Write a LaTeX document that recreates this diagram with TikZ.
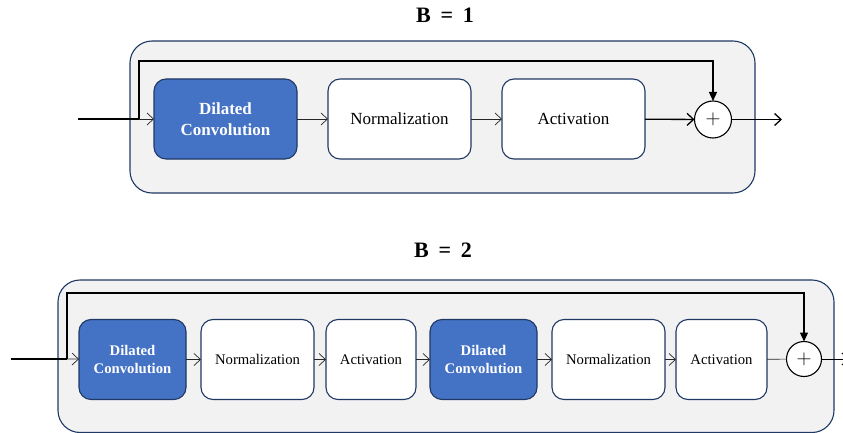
\documentclass[tikz,border=0pt]{standalone}
\usepackage{fontspec}
\setmainfont{Liberation Serif}
\usepackage{tikz}
\usetikzlibrary{arrows.meta,positioning}
\definecolor{blockblue}{HTML}{4472C4}
\definecolor{edgenavy}{HTML}{1F3864}
\definecolor{panelgray}{HTML}{F2F2F2}

\begin{document}
\begin{tikzpicture}[x=1pt,y=-1pt,>={Straight Barb[length=6.5pt,width=12pt]},
                    panel/.style={draw=edgenavy,fill=panelgray,line width=1.1pt,rounded corners=22pt},
                    block/.style={rectangle,draw=edgenavy,fill=white,line width=1.1pt,outer sep=0pt,
                                  rounded corners=12pt,minimum height=80pt,inner sep=0pt,align=center},
                    conv block/.style={block,fill=blockblue,text=white,font=\bfseries},
                    sum node/.style={circle,draw,fill=white,line width=1.1pt,inner sep=0pt,outer sep=0pt,
                                     font=\fontsize{20}{20}\selectfont},
                    link/.style={->,line width=0.7pt,draw=black!85},
                    main line/.style={line width=1.3pt},
                    title/.style={font=\fontsize{22}{24}\selectfont\bfseries}]
  \useasboundingbox (0,0) rectangle (843,433);

  % B = 1
  \node[title] (title1) at (445,15) {B\;\,=\;\,1};
  \draw[panel] (130,41) rectangle (755,193);

  \begin{scope}[every node/.append style={font=\fontsize{17}{21}\selectfont}]
  \node[conv block,minimum width=143pt,font=\fontsize{17}{21}\selectfont\bfseries] (conv1) at (225.5,119) {Dilated\\Convolution};
  \node[block,minimum width=143pt] (norm1) [right=31pt of conv1] {Normalization};
  \node[block,minimum width=143pt] (act1) [right=31pt of norm1] {Activation};
  \end{scope}
  \node[sum node,minimum size=37pt] (sum1) at (713,119.5) {$+$};

  \coordinate (in1) at (78,119);
  \coordinate (split1) at (139,119);
  \coordinate (out1) at (782,119.5);

  \draw[main line] (in1) -- (split1);
  \draw[link] (split1) -- (conv1);
  \draw[link] (conv1) -- (norm1);
  \draw[link] (norm1) -- (act1);
  \draw[main line,->] (act1) -- (sum1);
  \draw[main line,-{Triangle[length=9pt,width=8pt]}] (split1) -- ++(0,-58) -| (sum1.north);
  \draw[main line,->] (sum1) -- (out1);

  % B = 2
  \node[title] (title2) at (443,250) {B\;\,=\;\,2};
  \draw[panel] (58,280) rectangle (834,432.5);

  \begin{scope}[every node/.append style={font=\fontsize{14.7}{18}\selectfont}]
  \node[conv block,minimum width=107pt,font=\fontsize{14.7}{18}\selectfont\bfseries] (conv2a) at (132.5,359.5) {Dilated\\Convolution};
  \node[block,minimum width=113pt] (norm2a) [right=15pt of conv2a] {Normalization};
  \node[block,minimum width=90pt] (act2a) [right=12pt of norm2a] {Activation};
  \node[conv block,minimum width=107pt,font=\fontsize{14.7}{18}\selectfont\bfseries] (conv2b) [right=14pt of act2a] {Dilated\\Convolution};
  \node[block,minimum width=113pt] (norm2b) [right=15pt of conv2b] {Normalization};
  \node[block,minimum width=91pt] (act2b) [right=11pt of norm2b] {Activation};
  \end{scope}
  \node[sum node,minimum size=35pt] (sum2) at (804,359) {$+$};

  \coordinate (in2) at (11,359);
  \coordinate (split2) at (67,359);
  \coordinate (out2) at (849,359);

  \draw[main line] (in2) -- (split2);
  \draw[link] (split2) -- (conv2a);
  \draw[link] (conv2a) -- (norm2a);
  \draw[link] (norm2a) -- (act2a);
  \draw[link] (act2a) -- (conv2b);
  \draw[link] (conv2b) -- (norm2b);
  \draw[link] (norm2b) -- (act2b);
  \draw[line width=0.7pt,draw=black!85] (act2b) -- (sum2);
  \draw[main line,-{Triangle[length=9pt,width=8pt]}] (split2) -- ++(0,-66) -| (sum2.north);
  \draw[line width=0.9pt,->] (sum2) -- (out2);
\end{tikzpicture}
\end{document}
